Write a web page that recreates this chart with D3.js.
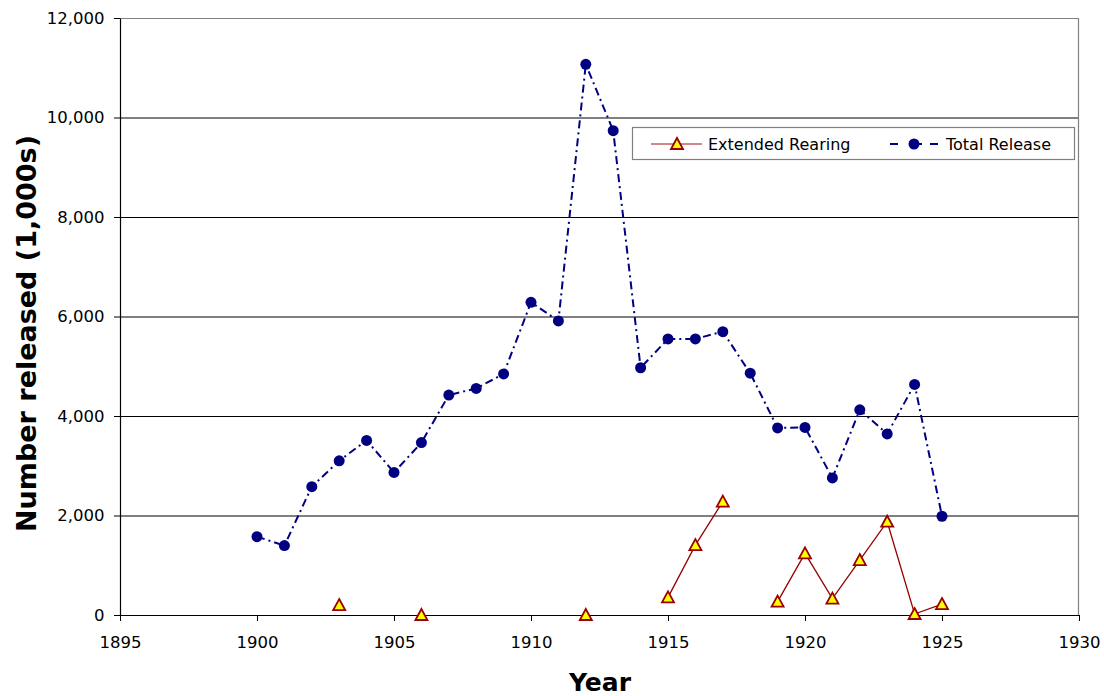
<!DOCTYPE html>
<html>
<head>
<meta charset="utf-8">
<script src="https://cdn.jsdelivr.net/npm/d3@7"></script>
<style>
  body { margin: 0; background: #fff; }
  .tick text { font-family: "DejaVu Sans", Verdana, sans-serif; font-size: 16.5px; fill: #000; }
  .legend text { font-family: "DejaVu Sans", Verdana, sans-serif; font-size: 16px; }
  .title { font-family: "DejaVu Sans", sans-serif; font-weight: bold; }
</style>
</head>
<body>
<div id="chart"></div>
<script>
// data (values in 1,000s)
var years = [1900, 1901, 1902, 1903, 1904, 1905, 1906, 1907, 1908, 1909, 1910, 1911, 1912,
             1913, 1914, 1915, 1916, 1917, 1918, 1919, 1920, 1921, 1922, 1923, 1924, 1925];
var totalRelease = [1575, 1395, 2580, 3100, 3510, 2865, 3465, 4420, 4555, 4845, 6285, 5910, 11070,
                    9735, 4970, 5550, 5550, 5695, 4860, 3760, 3770, 2755, 4125, 3640, 4635, 1985];
var extendedRearing = [null, null, null, 200, null, null, 0, null, null, null, null, null, 0,
                       null, null, 355, 1405, 2280, null, 270, 1240, 330, 1105, 1875, 20, 220];
var xTicks = [1895, 1900, 1905, 1910, 1915, 1920, 1925, 1930];
var yTicks = [0, 2000, 4000, 6000, 8000, 10000, 12000];

var svgWidth = 1104;
var svgHeight = 696;
var margin = { top: 18, right: 25, bottom: 81, left: 120 };
var width = svgWidth - margin.left - margin.right;
var height = svgHeight - margin.top - margin.bottom;

var svg = d3.select("#chart")
  .append("svg")
  .attr("width", svgWidth)
  .attr("height", svgHeight);

var chartGroup = svg.append("g")
  .attr("transform", `translate(${margin.left}, ${margin.top})`);

var xScale = d3.scaleLinear().domain([1895, 1930]).range([0, width]);
var yScale = d3.scaleLinear().domain([0, 12000]).range([height, 0]);

// gridlines
chartGroup.selectAll(".grid")
  .data(yTicks.filter(d => d > 0 && d < 12000))
  .enter()
  .append("line")
  .attr("x1", 0)
  .attr("x2", width)
  .attr("y1", d => yScale(d) + 0.5)
  .attr("y2", d => yScale(d) + 0.5)
  .attr("stroke", "#000")
  .attr("stroke-width", 1);

// plot border top / right
chartGroup.append("path")
  .attr("d", `M0,0.5H${width - 0.5}V${height}`)
  .attr("fill", "none")
  .attr("stroke", "#808080")
  .attr("stroke-width", 1.2);

// axes
var bottomAxis = d3.axisBottom(xScale).tickValues(xTicks).tickFormat(d3.format("d")).tickSize(6).tickSizeOuter(0);
var leftAxis = d3.axisLeft(yScale).tickValues(yTicks).tickFormat(d3.format(",")).tickSize(6).tickSizeOuter(0);

var xAxis = chartGroup.append("g")
  .attr("transform", `translate(0, ${height})`)
  .call(bottomAxis);
xAxis.selectAll("text").attr("dy", "1.45em");

var yAxis = chartGroup.append("g")
  .call(leftAxis);
yAxis.selectAll("text").attr("dx", "-0.4em");

svg.selectAll(".domain").attr("stroke", "#000").attr("stroke-width", 1.2);
svg.selectAll(".tick line").attr("stroke", "#000");

// lines
var idx = d3.range(years.length);

var totalLine = d3.line()
  .x(i => xScale(years[i]))
  .y(i => yScale(totalRelease[i]));

var rearLine = d3.line()
  .defined(i => extendedRearing[i] !== null)
  .x(i => xScale(years[i]))
  .y(i => yScale(extendedRearing[i]));

chartGroup.append("path")
  .datum(idx)
  .attr("d", rearLine)
  .attr("fill", "none")
  .attr("stroke", "#990000")
  .attr("stroke-width", 1.3);

chartGroup.append("path")
  .datum(idx)
  .attr("d", totalLine)
  .attr("fill", "none")
  .attr("stroke", "#000080")
  .attr("stroke-width", 2)
  .attr("stroke-dasharray", "8,4,2,4");

var triangle = "M0,-6L6,5L-6,5Z";

// markers
chartGroup.selectAll(".tri")
  .data(idx.filter(i => extendedRearing[i] !== null))
  .enter()
  .append("path")
  .attr("d", triangle)
  .attr("transform", i => `translate(${xScale(years[i])}, ${yScale(extendedRearing[i])})`)
  .attr("fill", "#ffff00")
  .attr("stroke", "#990000")
  .attr("stroke-width", 1.8);

chartGroup.selectAll(".dot")
  .data(idx)
  .enter()
  .append("circle")
  .attr("cx", i => xScale(years[i]))
  .attr("cy", i => yScale(totalRelease[i]))
  .attr("r", 5.5)
  .attr("fill", "#000080");

// legend
var legend = svg.append("g")
  .attr("class", "legend")
  .attr("transform", "translate(632, 127)");

legend.append("rect")
  .attr("x", 0.5)
  .attr("y", 0.5)
  .attr("width", 442)
  .attr("height", 32)
  .attr("fill", "#fff")
  .attr("stroke", "#808080")
  .attr("stroke-width", 1.2);

legend.append("line")
  .attr("x1", 19).attr("x2", 70).attr("y1", 17).attr("y2", 17)
  .attr("stroke", "#c06060").attr("stroke-width", 1.3);
legend.append("path")
  .attr("d", triangle)
  .attr("transform", "translate(45, 17)")
  .attr("fill", "#ffff00")
  .attr("stroke", "#990000")
  .attr("stroke-width", 1.8);
legend.append("text")
  .attr("x", 76).attr("y", 23)
  .text("Extended Rearing");

legend.append("line")
  .attr("x1", 258).attr("x2", 306).attr("y1", 17).attr("y2", 17)
  .attr("stroke", "#000080").attr("stroke-width", 2)
  .attr("stroke-dasharray", "8,16,8");
legend.append("circle")
  .attr("cx", 282).attr("cy", 17).attr("r", 5.5)
  .attr("fill", "#000080");
legend.append("text")
  .attr("x", 314).attr("y", 23)
  .text("Total Release");

// axis titles
svg.append("text")
  .attr("class", "title")
  .attr("text-anchor", "middle")
  .style("font-size", "27px")
  .attr("transform", `translate(36, ${margin.top + height / 2 + 17}) rotate(-90)`)
  .text("Number released (1,000s)");

svg.append("text")
  .attr("class", "title")
  .attr("text-anchor", "middle")
  .style("font-size", "25px")
  .attr("x", 600)
  .attr("y", 691)
  .text("Year");
</script>
</body>
</html>
